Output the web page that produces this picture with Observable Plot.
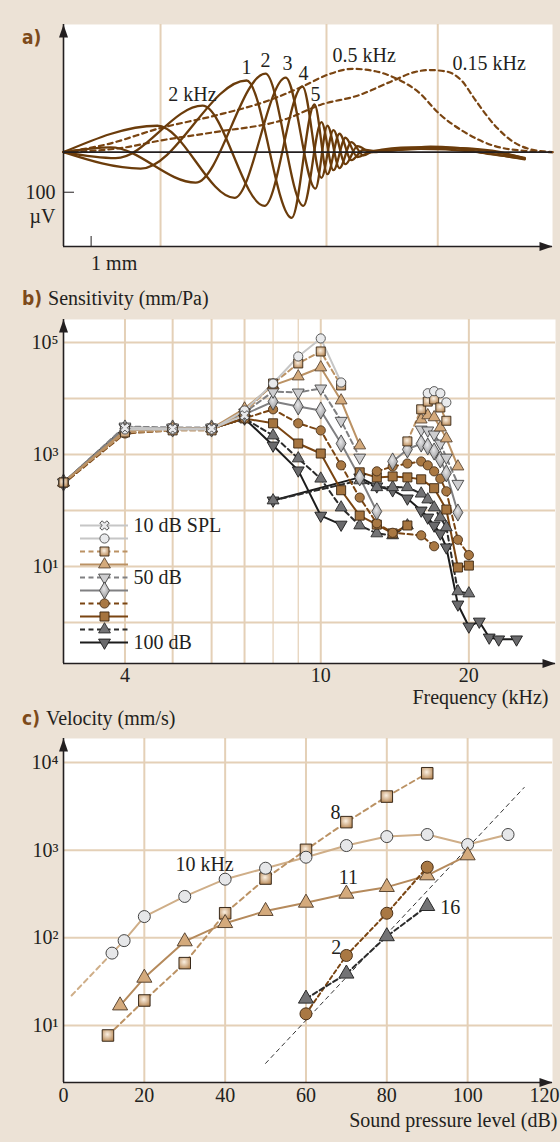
<!DOCTYPE html>
<html>
<head>
<meta charset="utf-8">
<script src="https://cdn.jsdelivr.net/npm/d3@7"></script>
<script src="https://cdn.jsdelivr.net/npm/@observablehq/plot@0.6"></script>
<style>
  html, body { margin: 0; padding: 0; background: #ece2d6; }
  #wrap { position: relative; width: 560px; height: 1142px; overflow: hidden; background: #ece2d6; }
  .panel { position: absolute; left: 0; }
  .head { position: absolute; left: 22px; font-family: "Liberation Serif", "Times New Roman", serif; font-size: 20px; color: #231f20; white-space: nowrap; line-height: 20px; z-index: 5; }
  .head b { font-family: "Liberation Sans Narrow", "DejaVu Sans Condensed", "Liberation Sans", sans-serif; font-weight: bold; color: #7d4a1a; font-size: 19px; margin-right: 6px; }
</style>
</head>
<body>
<svg width="0" height="0" style="position:absolute">
  <defs>
    <radialGradient id="gTan" cx="45%" cy="40%" r="70%">
      <stop offset="0" stop-color="#fbf0e2"/>
      <stop offset="1" stop-color="#b4834f"/>
    </radialGradient>
    <radialGradient id="gGray" cx="45%" cy="40%" r="70%">
      <stop offset="0" stop-color="#e6e6e8"/>
      <stop offset="1" stop-color="#8a8a8c"/>
    </radialGradient>
  </defs>
</svg>
<div id="wrap">
  <div class="head" style="top:27px"><b>a)</b></div>
  <div class="head" style="top:288px"><b>b)</b>Sensitivity (mm/Pa)</div>
  <div class="head" style="top:708px"><b>c)</b>Velocity (mm/s)</div>
  <div id="pa" class="panel" style="top:0px"></div>
  <div id="pb" class="panel" style="top:280px"></div>
  <div id="pleg" class="panel" style="top:510px"></div>
  <div id="pc" class="panel" style="top:720px"></div>
</div>
<script>
// ================= DATA =================
// ---- panel a: basilar membrane displacement (x in mm, y in µV) ----
const aXDomain = [0, 15.47];
const aYDomain = [-235.5, 318.75];
const aGrid = [3.07, 8.32, 11.84];
const aScaleBarX = [1];      // 1 mm
const aScaleBarY = [-100];   // 100 µV
// four instants of the 2 kHz travelling wave (peaks/troughs)
const wave0 = [[0,0],[2.97,66],[5.41,-114],[7.03,186],[7.97,-91],[8.35,66],[8.73,-40],[9.11,25],[9.49,-8],[9.78,2],[10.98,12],[12.56,10],[13.83,0],[14.59,-16]];
const wave1 = [[0,0],[1.65,-15],[4.40,116],[6.36,-134],[7.56,164],[8.16,-64],[8.54,55],[8.92,-30],[9.30,15],[9.72,0],[11.61,14],[13.20,5],[14.59,-14]];
const wave2 = [[0,0],[2.44,-41],[5.79,179],[7.22,-164],[7.94,119],[8.35,-55],[8.73,46],[9.11,-20],[9.49,6],[9.87,3],[11.30,8],[12.88,2],[14.59,-18]];
const wave3 = [[0,0],[1.49,12],[4.18,-76],[6.39,196],[7.59,-134],[8.16,75],[8.54,-45],[8.92,36],[9.30,-12],[9.72,0],[12.25,10],[13.51,-5],[14.59,-16]];
// envelopes (dashed)
const env05 = [[0,0],[1.39,20],[3.06,60],[4.78,91],[6.49,129],[7.56,164],[8.41,195],[9.14,208],[9.87,202],[10.55,183],[11.23,150],[11.90,95],[12.69,50],[13.61,16],[14.49,4],[15.47,0]];
const env015 = [[0,0],[1.96,12],[3.06,29],[4.78,50],[7.05,83],[8.16,119],[9.30,141],[10.44,179],[11.11,200],[11.57,205],[12.08,202],[12.59,179],[13.04,129],[13.61,70],[14.17,29],[14.73,8],[15.47,0]];
const aLabelsMid = [
  {x:4.08, y:144, text:"2 kHz"},
  {x:5.79, y:211, text:"1"},
  {x:6.39, y:229, text:"2"},
  {x:7.09, y:221, text:"3"},
  {x:7.59, y:196, text:"4"},
  {x:7.97, y:144, text:"5"}
];
const aLabelsStart = [
  {x:8.51, y:241, text:"0.5 kHz"},
  {x:12.31, y:221, text:"0.15 kHz"}
];

// ---- panel b: sensitivity (mm/Pa) vs frequency (kHz) ----
const bXDomain = [3, 30];
const bYDomain = [0.1854, 257000];
const bGridX = [4, 5, 6, 7, 10, 20];
const bGridXThin = [8, 9];
const bGridY = [1, 10, 100, 1000, 10000, 100000];
const bTicksX = [4, 7, 10, 20];
const bTicksY = [10, 1000, 100000];
const bNames = ["10","20","30","40","50","60","70","80","90","100"];
const legendLabels = ["10 dB SPL","","","","50 dB","","","","","100 dB"];
const s10  = [[4,3000],[5,2900],[6,2910],[7,5000]];
const s20  = [[4,2800],[5,2800],[6,2800],[7,6100],[8,18500],[9,56200],[10,118000],[11,19300]];
const s20b = [[16.5,12400],[17,13500],[17.5,12400],[18,8500]];
const s30  = [[3,316],[4,2470],[5,2690],[6,2690],[7,5600],[8,18500],[9,42200],[10,69000],[11,17100]];
const s30b = [[15,1710],[16,6400],[16.5,8800],[17,9600],[17.5,6900],[18,4000]];
const s40  = [[3,316],[4,2690],[5,2910],[6,2910],[7,6600],[8,17100],[9,24700],[10,35800],[11,9200],[12,1450]];
const s40b = [[16,4200],[16.5,5000],[17,4600],[17.5,3030],[18,1930],[19,610]];
const s50  = [[3,316],[4,3160],[5,3030],[6,3030],[7,5600],[8,13300],[9,12800],[10,15100],[11,4000],[12,880]];
const s50b = [[16,2790],[16.5,2690],[17,2280],[17.5,1570],[18,880],[19,300]];
const s60  = [[3,316],[4,2910],[5,2910],[6,2910],[7,5200],[8,8800],[9,7200],[10,6100],[11,1570],[12,390],[13,96]];
const s60b = [[14,750],[15,1230],[16,1570],[16.5,1390],[17,1130],[17.5,815],[18,460],[19,92]];
const s70  = [[3,300],[4,2370],[5,2690],[6,2910],[7,4400],[8,6400],[9,3600],[10,2690],[11,640],[12,170],[13,59],[14,40],[16,36],[17,23]];
const s70b = [[13,500],[14,610],[15,690],[16,750],[16.5,640],[17,500],[17.5,370],[18,220],[19,30],[20,16]];
const s80  = [[3,316],[4,2690],[5,2910],[6,2910],[7,4400],[8,3600],[9,1570],[10,1040],[11,230],[12,81],[13,56],[14,39],[15,54]];
const s80b = [[12,480],[13,390],[14,405],[15,390],[16,360],[17,250],[18,104],[19,9.6],[20,10.4]];
const s90  = [[3,316],[4,2690],[5,2910],[6,2910],[7,4400],[8,2180],[9,850],[10,370],[11,113],[12,54],[13,39],[14,36],[15,54]];
const s90b = [[8,151],[12,345],[13,260],[14,260],[15,260],[16,200],[16.5,157],[17,113],[17.5,75],[18,50],[19,3.6],[20,3.3]];
const s100  = [[3,316],[4,3030],[5,2910],[6,2910],[7,4400],[8,1450],[9,520],[10,81],[11,56]];
const s100b = [[8,151],[12,390],[13,270],[14,230],[15,164],[16,100],[16.5,75],[17,54],[17.5,39],[18,22],[19,2.1],[20,0.85],[21,1.04],[22,0.54],[23,0.5],[25,0.5]];
const bSeries = {"10":[s10],"20":[s20,s20b],"30":[s30,s30b],"40":[s40,s40b],"50":[s50,s50b],"60":[s60,s60b],"70":[s70,s70b],"80":[s80,s80b],"90":[s90,s90b],"100":[s100,s100b]};

// ---- panel c: velocity (mm/s) vs SPL (dB) ----
const cXDomain = [0, 121];
const cYDomain = [2.24, 18800];
const cGridX = [20, 40, 60, 80, 100];
const cGridY = [10, 100, 1000, 10000];
const cTicksX = [0, 20, 40, 60, 80, 100];
const cTicksXEdge = [120];
const cTicksY = [10, 100, 1000, 10000];
const c10k    = [[12,67],[15,93],[20,175],[30,297],[40,467],[50,623],[60,832],[70,1130],[80,1430],[90,1510],[100,1160],[110,1510]];
const c10kExt = [[2,22],[12,67]];
const c8k     = [[11,7.7],[20,19.3],[30,51.5],[40,191],[50,475],[60,1010],[70,2090],[80,4090],[90,7550]];
const c11k    = [[14,16.9],[20,35],[30,91],[40,147],[50,202],[60,251],[70,318],[80,379],[90,515],[100,871]];
const c2k     = [[60,13.6],[70,63],[80,191],[90,640]];
const c16k    = [[60,20.2],[70,39],[80,104],[90,230]];
const cRef    = [[50,3.7],[114,5200]];
const cLabels = [
  {x:34.9, y:687, text:"10 kHz"},
  {x:67.3, y:2700, text:"8"},
  {x:70.5, y:489, text:"11"},
  {x:67.5, y:78, text:"2"},
  {x:95.7, y:222, text:"16"}
];

// ================= STYLES =================
const gridColor = "#e4d0b7";
const ink = "#231f20";
const waveColor = "#6b3c0b";
const serif = "'Liberation Serif', 'Times New Roman', serif";
const svgStyle = `background: transparent; overflow: visible; font-family: ${serif}; font-size: 20px; color: ${ink};`;
const sqrt3 = Math.sqrt(3);
const triangleDown = {draw(ctx, size) { const y = -Math.sqrt(size / (sqrt3 * 3)); ctx.moveTo(0, -y * 2); ctx.lineTo(-sqrt3 * y, y); ctx.lineTo(sqrt3 * y, y); ctx.closePath(); }};
const arrowHead = {draw(ctx) { ctx.moveTo(0, 0); ctx.lineTo(-4.5, 13); ctx.lineTo(4.5, 13); ctx.closePath(); }};
const sup = {"0":"⁰","1":"¹","2":"²","3":"³","4":"⁴","5":"⁵"};
const fmtPow = d => "10" + sup[String(Math.round(Math.log10(d)))];

const bStyle = {
  "10":  {stroke:"#c6c6c6", dash:null,    symbol:"cross",    rotate:45, fill:"#e9e9eb", mstroke:"#4a4a4a", r:4.2},
  "20":  {stroke:"#c6c6c6", dash:null,    symbol:"circle",   fill:"#e9eaec", mstroke:"#4a4a4a", r:4.6},
  "30":  {stroke:"#bb9264", dash:"5,3.5", symbol:"square",   fill:"url(#gTan)", mstroke:"#3a2a1a", r:5.1},
  "40":  {stroke:"#bb9264", dash:null,    symbol:"triangle", fill:"#d4aa7c", mstroke:"#5a4633", r:4.4},
  "50":  {stroke:"#808082", dash:"5,3.5", symbol:triangleDown, fill:"#cdcdcf", mstroke:"#444", r:4.4},
  "60":  {stroke:"#808082", dash:null,    symbol:"diamond",  fill:"url(#gGray)", mstroke:"#444", r:5.2},
  "70":  {stroke:"#7a4512", dash:"5,3.5", symbol:"circle",   fill:"#a97843", mstroke:"#4a3017", r:4.6},
  "80":  {stroke:"#7a4512", dash:null,    symbol:"square",   fill:"#a5743f", mstroke:"#3a2510", r:5.1},
  "90":  {stroke:"#2b2b2b", dash:"5,3.5", symbol:"triangle", fill:"#737375", mstroke:"#2a2a2a", r:4.4},
  "100": {stroke:"#1c1c1c", dash:null,    symbol:triangleDown, fill:"#6a6a6c", mstroke:"#1a1a1a", r:4.4}
};

function axisFrame(xd, yd) {
  return [
    Plot.ruleX([xd[0]], {stroke: ink, strokeWidth: 1.6}),
    Plot.ruleY([yd[0]], {stroke: ink, strokeWidth: 1.6}),
    Plot.dot([0], {x: () => xd[0], y: () => yd[1], symbol: arrowHead, fill: ink, stroke: "none", r: 4}),
    Plot.dot([0], {x: () => xd[1], y: () => yd[0], symbol: arrowHead, rotate: 90, fill: ink, stroke: "none", r: 4})
  ];
}

// ================= PANEL A =================
const waves = [wave0, wave1, wave2, wave3];
const plotA = Plot.plot({
  width: 560, height: 280,
  marginLeft: 63, marginRight: 8, marginTop: 24, marginBottom: 34,
  style: svgStyle,
  x: {domain: aXDomain, label: null},
  y: {domain: aYDomain, label: null},
  marks: [
    Plot.frame({fill: "white", stroke: "none"}),
    Plot.ruleX(aGrid, {stroke: gridColor, strokeWidth: 2}),
    Plot.line(env05, {x: d => d[0], y: d => d[1], curve: "monotone-x", stroke: "#7a4512", strokeWidth: 2.2, strokeDasharray: "5,4"}),
    Plot.line(env015, {x: d => d[0], y: d => d[1], curve: "monotone-x", stroke: "#7a4512", strokeWidth: 2.2, strokeDasharray: "5,4"}),
    ...waves.map(w => Plot.line(w, {x: d => d[0], y: d => d[1], curve: "monotone-x", stroke: waveColor, strokeWidth: 2.3})),
    Plot.ruleY([0], {stroke: ink, strokeWidth: 1.6}),
    ...axisFrame(aXDomain, aYDomain),
    Plot.axisY(aScaleBarY, {tickSize: -11, tickPadding: 19, tickFormat: () => "100", label: null, stroke: ink, fill: ink}),
    Plot.text(aScaleBarY, {y: d => d, frameAnchor: "left", text: () => "µV", textAnchor: "middle", dx: -21, dy: 24, fill: ink}),
    Plot.axisX(aScaleBarX, {tickSize: -10, tickPadding: 19, tickFormat: () => "1 mm", label: null, textAnchor: "start", dx: -4, stroke: ink, fill: ink}),
    Plot.text(aLabelsMid, {x: "x", y: "y", text: "text", textAnchor: "middle", fill: ink}),
    Plot.text(aLabelsStart, {x: "x", y: "y", text: "text", textAnchor: "start", fill: ink})
  ]
});
document.getElementById("pa").append(plotA);

// ================= PANEL B =================
const bRows = [];
for (const name of bNames) {
  bSeries[name].forEach((arr, bi) => arr.forEach(([f, v]) => bRows.push({f, v, s: name, br: name + "-" + bi})));
}
const drawOrder = [...bNames].reverse();
const plotB = Plot.plot({
  width: 560, height: 440,
  marginLeft: 63, marginRight: 5, marginTop: 39, marginBottom: 57,
  style: svgStyle,
  x: {type: "log", domain: bXDomain, label: null},
  y: {type: "log", domain: bYDomain, label: null},
  marks: [
    Plot.frame({fill: "white", stroke: "none"}),
    Plot.ruleX(bGridX, {stroke: gridColor, strokeWidth: 2}),
    Plot.ruleX(bGridXThin, {stroke: gridColor, strokeWidth: 1.2}),
    Plot.ruleY(bGridY, {stroke: gridColor, strokeWidth: 2}),
    ...drawOrder.map(n => Plot.line(bRows.filter(d => d.s === n), {x: "f", y: "v", z: "br", stroke: bStyle[n].stroke, strokeWidth: 2, strokeDasharray: bStyle[n].dash})),
    ...drawOrder.map(n => Plot.dot(bRows.filter(d => d.s === n), {x: "f", y: "v", symbol: bStyle[n].symbol, rotate: bStyle[n].rotate || 0, fill: bStyle[n].fill, stroke: bStyle[n].mstroke, strokeWidth: 0.9, r: bStyle[n].r})),
    ...axisFrame(bXDomain, bYDomain),
    Plot.axisX(bTicksX, {tickSize: 0, tickPadding: 4, tickFormat: d => String(d), label: null, fill: ink}),
    Plot.axisY(bTicksY, {tickSize: 0, tickPadding: 5, tickFormat: fmtPow, label: null, fill: ink}),
    Plot.text(["Frequency (kHz)"], {frameAnchor: "bottom-right", textAnchor: "end", dx: -7, dy: 40, fill: ink})
  ]
});
document.getElementById("pb").append(plotB);

// legend (panel b)
const legRows = bNames.map((n, i) => ({n, label: legendLabels[i]}));
const plotLeg = Plot.plot({
  width: 200, height: 150, margin: 0,
  style: svgStyle,
  x: {domain: [0, 1], range: [80, 128], axis: null},
  y: {type: "point", domain: bNames, range: [12.7, 135], padding: 0, axis: null},
  marks: [
    ...bNames.map(n => Plot.ruleY([n], {y: d => d, x1: 0, x2: 1, stroke: bStyle[n].stroke, strokeWidth: 2, strokeDasharray: bStyle[n].dash})),
    ...bNames.map(n => Plot.dot([n], {y: d => d, x: 0.5, symbol: bStyle[n].symbol, rotate: bStyle[n].rotate || 0, fill: bStyle[n].fill, stroke: bStyle[n].mstroke, strokeWidth: 0.9, r: bStyle[n].r})),
    Plot.text(legRows.filter(d => d.label), {y: "n", x: 1, text: "label", textAnchor: "start", dx: 5, fill: ink})
  ]
});
document.getElementById("pleg").append(plotLeg);

// ================= PANEL C =================
const xy = {x: d => d[0], y: d => d[1]};
const plotC = Plot.plot({
  width: 560, height: 422,
  marginLeft: 63, marginRight: 8, marginTop: 18, marginBottom: 60,
  style: svgStyle,
  x: {domain: cXDomain, label: null},
  y: {type: "log", domain: cYDomain, label: null},
  marks: [
    Plot.frame({fill: "white", stroke: "none"}),
    Plot.ruleX(cGridX, {stroke: gridColor, strokeWidth: 2}),
    Plot.ruleY(cGridY, {stroke: gridColor, strokeWidth: 2}),
    Plot.line(cRef, {...xy, stroke: "#333", strokeWidth: 1, strokeDasharray: "4,4"}),
    Plot.line(c10kExt, {...xy, stroke: "#cfae88", strokeWidth: 2, strokeDasharray: "5,4"}),
    Plot.line(c10k, {...xy, stroke: "#cfae88", strokeWidth: 2}),
    Plot.line(c8k, {...xy, stroke: "#bb9264", strokeWidth: 2, strokeDasharray: "5,4"}),
    Plot.line(c11k, {...xy, stroke: "#b58a5c", strokeWidth: 2}),
    Plot.line(c2k, {...xy, stroke: "#7a4512", strokeWidth: 2, strokeDasharray: "4,3"}),
    Plot.line(c16k, {...xy, stroke: "#2b2b2b", strokeWidth: 2, strokeDasharray: "5,3"}),
    Plot.dot(c8k, {...xy, symbol: "square", fill: "url(#gTan)", stroke: "#3a2a1a", strokeWidth: 1, r: 6.5}),
    Plot.dot(c10k, {...xy, symbol: "circle", fill: "#e6e7e9", stroke: "#444", strokeWidth: 1, r: 6}),
    Plot.dot(c11k, {...xy, symbol: "triangle", fill: "#d4aa7c", stroke: "#5a4633", strokeWidth: 1, r: 5.6}),
    Plot.dot(c2k, {...xy, symbol: "circle", fill: "#a97843", stroke: "#4a3017", strokeWidth: 1, r: 6}),
    Plot.dot(c16k, {...xy, symbol: "triangle", fill: "#737375", stroke: "#2a2a2a", strokeWidth: 1, r: 5.6}),
    ...axisFrame(cXDomain, cYDomain),
    Plot.axisX(cTicksX, {tickSize: 0, tickPadding: 5, tickFormat: d => String(d), label: null, fill: ink}),
    Plot.axisX(cTicksXEdge, {tickSize: 0, tickPadding: 5, tickFormat: d => String(d), label: null, textAnchor: "end", dx: 11, fill: ink}),
    Plot.axisY(cTicksY, {tickSize: 0, tickPadding: 5, tickFormat: fmtPow, label: null, fill: ink}),
    Plot.text(cLabels, {x: "x", y: "y", text: "text", fill: ink}),
    Plot.text(["Sound pressure level (dB)"], {frameAnchor: "bottom-right", textAnchor: "end", dx: 5, dy: 44, fill: ink})
  ]
});
document.getElementById("pc").append(plotC);
</script>
</body>
</html>
